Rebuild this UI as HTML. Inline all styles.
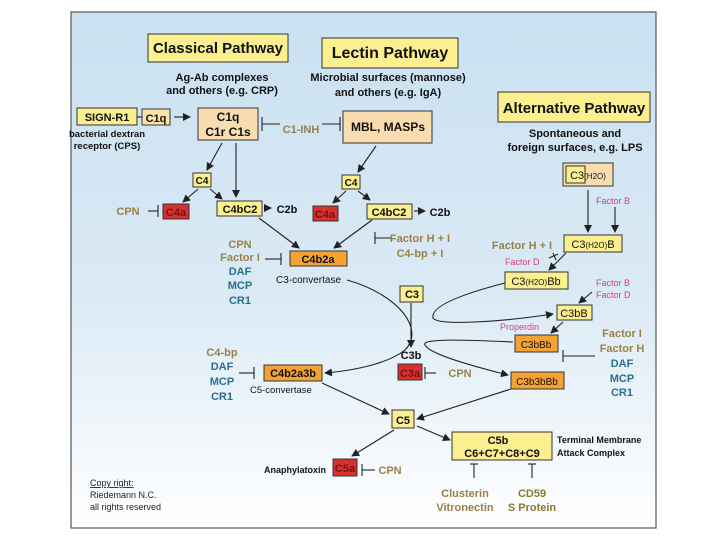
<!DOCTYPE html>
<html><head><meta charset="utf-8"><style>
html,body{margin:0;padding:0;background:#fff;}
svg{display:block;font-family:"Liberation Sans",sans-serif;}
.b{font-weight:bold;}
</style></head><body>
<svg width="720" height="540" viewBox="0 0 720 540" xmlns="http://www.w3.org/2000/svg">
<defs>
<linearGradient id="bg" x1="0" y1="0" x2="0" y2="1">
<stop offset="0" stop-color="#c9e1f1"/><stop offset="0.55" stop-color="#dbeaf5"/><stop offset="1" stop-color="#ffffff"/>
</linearGradient>
<marker id="a" markerWidth="8" markerHeight="8" refX="7" refY="4" orient="auto" markerUnits="userSpaceOnUse"><path d="M0,0 L8,4 L0,8 Z" fill="#222"/></marker>
</defs>
<rect x="71" y="12" width="585" height="516" fill="url(#bg)" stroke="#555" stroke-width="1.2"/>

<g stroke="#333" stroke-width="1">
<!-- headers -->
<rect x="148" y="34" width="140" height="28" fill="#fbef8f"/>
<rect x="322" y="38" width="136" height="30" fill="#fbef8f"/>
<rect x="498" y="92" width="152" height="30" fill="#fbef8f"/>
<!-- yellow boxes -->
<rect x="77" y="108" width="60" height="17" fill="#fbef8f"/>
<rect x="142" y="109" width="28" height="16" fill="#fbe3a8"/>
<rect x="198" y="108" width="60" height="32" fill="#f9dcb0"/>
<rect x="343" y="111" width="89" height="32" fill="#f9dcb0"/>
<rect x="193" y="173" width="18" height="14" fill="#fbef8f"/>
<rect x="342" y="175" width="18" height="14" fill="#fbef8f"/>
<rect x="217" y="201" width="45" height="15" fill="#fbef8f"/>
<rect x="367" y="204" width="45" height="15" fill="#fbef8f"/>
<rect x="400" y="286" width="23" height="16" fill="#fbef8f"/>
<rect x="392" y="410" width="22" height="18" fill="#fbef8f"/>
<rect x="452" y="432" width="100" height="28" fill="#fbef8f"/>
<rect x="563" y="163" width="50" height="23" fill="#f9dcb0"/>
<rect x="566" y="166" width="19" height="17" fill="#fbef8f"/>
<rect x="564" y="235" width="58" height="17" fill="#fbef8f"/>
<rect x="505" y="272" width="63" height="17" fill="#fbef8f"/>
<rect x="557" y="305" width="35" height="15" fill="#fbef8f"/>
<!-- orange -->
<rect x="290" y="251" width="57" height="15" fill="#f4a332"/>
<rect x="264" y="365" width="58" height="16" fill="#f4a332"/>
<rect x="515" y="335" width="43" height="17" fill="#f4a332"/>
<rect x="511" y="372" width="53" height="17" fill="#f4a332"/>
<!-- red -->
<rect x="163" y="204" width="26" height="15" fill="#d63030"/>
<rect x="313" y="206" width="25" height="15" fill="#d63030"/>
<rect x="398" y="364" width="24" height="16" fill="#d63030"/>
<rect x="333" y="459" width="24" height="17" fill="#d63030"/>
</g>

<!-- connectors -->
<g stroke="#222" stroke-width="1.1" fill="none">
<line x1="137" y1="117" x2="142" y2="117"/>
<line x1="174" y1="117" x2="190" y2="117" marker-end="url(#a)"/>
<line x1="262" y1="124" x2="280" y2="124"/><line x1="262" y1="117" x2="262" y2="131"/>
<line x1="322" y1="124" x2="340" y2="124"/><line x1="340" y1="117" x2="340" y2="131"/>
<line x1="222" y1="143" x2="207" y2="170" marker-end="url(#a)"/>
<line x1="236" y1="143" x2="236" y2="197" marker-end="url(#a)"/>
<line x1="198" y1="189" x2="183" y2="202" marker-end="url(#a)"/>
<line x1="210" y1="189" x2="222" y2="199" marker-end="url(#a)"/>
<line x1="148" y1="211" x2="158" y2="211"/><line x1="158" y1="205" x2="158" y2="217"/>
<line x1="264" y1="208" x2="271" y2="208" marker-end="url(#a)"/>
<line x1="376" y1="146" x2="358" y2="172" marker-end="url(#a)"/>
<line x1="346" y1="191" x2="333" y2="203" marker-end="url(#a)"/>
<line x1="358" y1="191" x2="370" y2="200" marker-end="url(#a)"/>
<line x1="414" y1="211" x2="425" y2="211" marker-end="url(#a)"/>
<line x1="259" y1="218" x2="299" y2="248" marker-end="url(#a)"/>
<line x1="372" y1="220" x2="334" y2="248" marker-end="url(#a)"/>
<line x1="375" y1="238" x2="392" y2="238"/><line x1="375" y1="232" x2="375" y2="244"/>
<line x1="265" y1="259" x2="281" y2="259"/><line x1="281" y1="253" x2="281" y2="265"/>
<path d="M347,280 C400,295 425,330 405,350 C390,362 360,370 325,373" marker-end="url(#a)"/>
<line x1="411" y1="303" x2="411" y2="347" marker-end="url(#a)"/>
<line x1="239" y1="373" x2="254" y2="373"/><line x1="254" y1="367" x2="254" y2="379"/>
<line x1="425" y1="373" x2="436" y2="373"/><line x1="425" y1="367" x2="425" y2="379"/>
<line x1="322" y1="383" x2="389" y2="414" marker-end="url(#a)"/>
<line x1="511" y1="389" x2="417" y2="419" marker-end="url(#a)"/>
<line x1="394" y1="430" x2="352" y2="456" marker-end="url(#a)"/>
<line x1="417" y1="426" x2="450" y2="440" marker-end="url(#a)"/>
<line x1="362" y1="470" x2="375" y2="470"/><line x1="362" y1="464" x2="362" y2="476"/>
<line x1="474" y1="464" x2="474" y2="478"/><line x1="470" y1="464" x2="478" y2="464"/>
<line x1="532" y1="464" x2="532" y2="478"/><line x1="528" y1="464" x2="536" y2="464"/>
<!-- alternative -->
<line x1="588" y1="190" x2="588" y2="232" marker-end="url(#a)"/>
<line x1="615" y1="207" x2="615" y2="232" marker-end="url(#a)"/>
<line x1="566" y1="253" x2="549" y2="270" marker-end="url(#a)"/>
<line x1="553" y1="253" x2="556" y2="260"/><line x1="549" y1="258" x2="558" y2="254"/>
<path d="M505,283 C470,292 430,305 433,318 C438,326 500,322 553,314" marker-end="url(#a)"/>
<line x1="592" y1="292" x2="579" y2="303" marker-end="url(#a)"/>
<line x1="563" y1="322" x2="551" y2="333" marker-end="url(#a)"/>
<path d="M513,342 C470,340 420,338 425,345 C430,355 480,368 508,375" marker-end="url(#a)"/>
<line x1="563" y1="356" x2="595" y2="356"/><line x1="563" y1="350" x2="563" y2="362"/>
</g>

<!-- text -->
<g fill="#111" text-anchor="middle" class="b">
<text x="218" y="53" font-size="15" font-weight="bold">Classical Pathway</text>
<text x="390" y="58" font-size="16" font-weight="bold">Lectin Pathway</text>
<text x="574" y="113" font-size="15" font-weight="bold">Alternative Pathway</text>
<text x="222" y="81" font-size="11" font-weight="bold">Ag-Ab complexes</text>
<text x="222" y="94" font-size="11" font-weight="bold">and others (e.g. CRP)</text>
<text x="388" y="81" font-size="11" font-weight="bold">Microbial surfaces (mannose)</text>
<text x="388" y="96" font-size="11" font-weight="bold">and others (e.g. IgA)</text>
<text x="575" y="137" font-size="11" font-weight="bold">Spontaneous and</text>
<text x="575" y="151" font-size="11" font-weight="bold">foreign surfaces, e.g. LPS</text>
<text x="107" y="121" font-size="11" font-weight="bold">SIGN-R1</text>
<text x="156" y="122" font-size="11" font-weight="bold">C1q</text>
<text x="228" y="121" font-size="12" font-weight="bold">C1q</text>
<text x="228" y="136" font-size="12" font-weight="bold">C1r  C1s</text>
<text x="388" y="131" font-size="12" font-weight="bold">MBL, MASPs</text>
<text x="202" y="184" font-size="10" font-weight="bold">C4</text>
<text x="351" y="186" font-size="10" font-weight="bold">C4</text>
<text x="240" y="213" font-size="11" font-weight="bold">C4bC2</text>
<text x="389" y="216" font-size="11" font-weight="bold">C4bC2</text>
<text x="287" y="213" font-size="11" font-weight="bold">C2b</text>
<text x="440" y="216" font-size="11" font-weight="bold">C2b</text>
<text x="176" y="216" font-size="11" fill="#7a1010">C4a</text>
<text x="325" y="218" font-size="11" fill="#7a1010">C4a</text>
<text x="318" y="263" font-size="11" font-weight="bold">C4b2a</text>
<text x="293" y="377" font-size="11" font-weight="bold">C4b2a3b</text>
<text x="412" y="298" font-size="11" font-weight="bold">C3</text>
<text x="411" y="359" font-size="11" font-weight="bold">C3b</text>
<text x="410" y="377" font-size="11" fill="#7a1010">C3a</text>
<text x="403" y="424" font-size="11" font-weight="bold">C5</text>
<text x="345" y="472" font-size="11" fill="#7a1010">C5a</text>
<text x="498" y="444" font-size="11" font-weight="bold">C5b</text>
<text x="502" y="457" font-size="11" font-weight="bold">C6+C7+C8+C9</text>
<text x="588" y="179" font-size="11" font-weight="normal">C3<tspan font-size="8">(H2O)</tspan></text>
<text x="593" y="248" font-size="11" font-weight="normal">C3<tspan font-size="8">(H2O)</tspan>B</text>
<text x="536" y="285" font-size="11" font-weight="normal">C3<tspan font-size="8">(H2O)</tspan>Bb</text>
<text x="574" y="317" font-size="11" font-weight="normal">C3bB</text>
<text x="536" y="348" font-size="10" font-weight="normal">C3bBb</text>
<text x="537" y="385" font-size="10" font-weight="normal">C3b3bBb</text>
</g>
<g font-weight="bold" font-size="10" fill="#111">
<text x="107" y="137" text-anchor="middle" font-size="9.5">bacterial dextran</text>
<text x="107" y="149" text-anchor="middle" font-size="9.5">receptor (CPS)</text>
<text x="276" y="283" font-weight="normal" font-size="10">C3-convertase</text>
<text x="250" y="393" font-weight="normal" font-size="9.5">C5-convertase</text>
<text x="326" y="473" text-anchor="end" font-size="9">Anaphylatoxin</text>
<text x="557" y="443" font-size="9">Terminal Membrane</text>
<text x="557" y="456" font-size="9">Attack Complex</text>
</g>
<g font-weight="bold" font-size="11" fill="#9a8048" text-anchor="middle">
<text x="301" y="133">C1-INH</text>
<text x="128" y="215">CPN</text>
<text x="240" y="248">CPN</text>
<text x="240" y="261">Factor I</text>
<text x="420" y="242">Factor H + I</text>
<text x="420" y="257">C4-bp + I</text>
<text x="222" y="356">C4-bp</text>
<text x="460" y="377">CPN</text>
<text x="390" y="474">CPN</text>
<text x="465" y="497">Clusterin</text>
<text x="465" y="511">Vitronectin</text>
<text x="532" y="497" fill="#8a7a30">CD59</text>
<text x="532" y="511" fill="#8a7a30">S Protein</text>
<text x="522" y="249">Factor H + I</text>
<text x="622" y="337">Factor I</text>
<text x="622" y="352">Factor H</text>
</g>
<g font-weight="bold" font-size="11" fill="#2a6f8c" text-anchor="middle">
<text x="240" y="275">DAF</text><text x="240" y="289">MCP</text><text x="240" y="304">CR1</text>
<text x="222" y="370">DAF</text><text x="222" y="385">MCP</text><text x="222" y="400">CR1</text>
<text x="622" y="367">DAF</text><text x="622" y="382">MCP</text><text x="622" y="396">CR1</text>
</g>
<g font-size="9" fill="#d0408a">
<text x="596" y="204">Factor B</text>
<text x="505" y="265">Factor D</text>
<text x="596" y="286">Factor B</text>
<text x="596" y="298">Factor D</text>
<text x="500" y="330">Properdin</text>
</g>
<g font-size="9" fill="#222">
<text x="90" y="486" text-decoration="underline">Copy right:</text>
<text x="90" y="498">Riedemann N.C.</text>
<text x="90" y="510">all rights reserved</text>
</g>
</svg>
</body></html>
